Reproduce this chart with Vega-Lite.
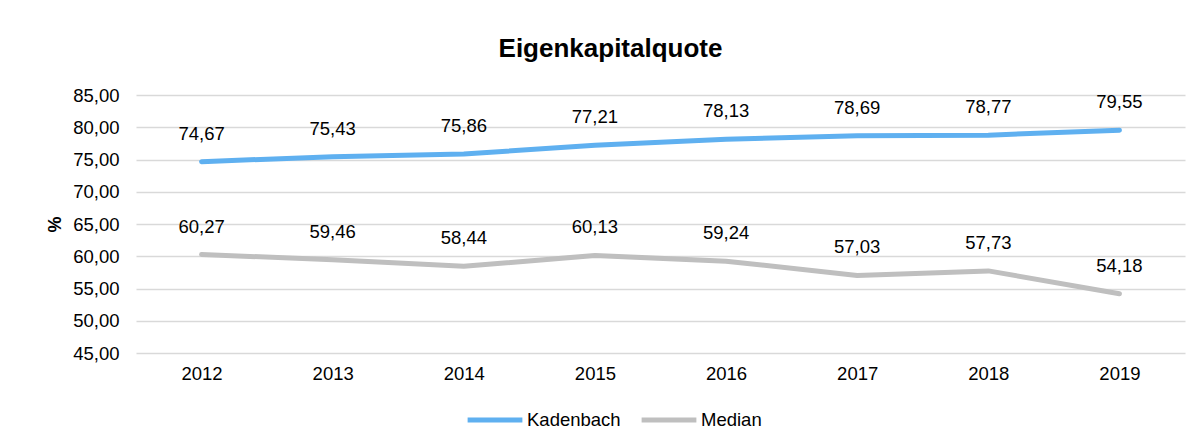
{
  "$schema": "https://vega.github.io/schema/vega-lite/v6.json",
  "width": 1049,
  "height": 258,
  "autosize": {"type": "none"},
  "padding": {"left": 136, "top": 95, "right": 17, "bottom": 93},
  "background": "white",
  "config": {
    "locale": {"number": {"decimal": ",", "thousands": ".", "grouping": [3], "currency": ["", " €"]}},
    "font": "Liberation Sans",
    "view": {"stroke": null}
  },
  "title": {
    "text": "Eigenkapitalquote",
    "fontSize": 26,
    "fontWeight": "bold",
    "font": "Liberation Sans",
    "color": "#000000",
    "anchor": "middle",
    "frame": "group",
    "dx": -50,
    "offset": 24
  },
  "data": {
    "values": [
      {"year": "2012", "series": "Kadenbach", "value": 74.67},
      {"year": "2013", "series": "Kadenbach", "value": 75.43},
      {"year": "2014", "series": "Kadenbach", "value": 75.86},
      {"year": "2015", "series": "Kadenbach", "value": 77.21},
      {"year": "2016", "series": "Kadenbach", "value": 78.13},
      {"year": "2017", "series": "Kadenbach", "value": 78.69},
      {"year": "2018", "series": "Kadenbach", "value": 78.77},
      {"year": "2019", "series": "Kadenbach", "value": 79.55},
      {"year": "2012", "series": "Median", "value": 60.27},
      {"year": "2013", "series": "Median", "value": 59.46},
      {"year": "2014", "series": "Median", "value": 58.44},
      {"year": "2015", "series": "Median", "value": 60.13},
      {"year": "2016", "series": "Median", "value": 59.24},
      {"year": "2017", "series": "Median", "value": 57.03},
      {"year": "2018", "series": "Median", "value": 57.73},
      {"year": "2019", "series": "Median", "value": 54.18}
    ]
  },
  "encoding": {
    "x": {
      "field": "year",
      "type": "ordinal",
      "scale": {"type": "point", "padding": 0.5},
      "axis": {
        "title": null,
        "labelAngle": 0,
        "ticks": false,
        "domain": false,
        "grid": false,
        "labelPadding": 11,
        "labelFontSize": 18.5,
        "labelColor": "#000000",
        "labelFont": "Liberation Sans"
      }
    },
    "y": {
      "field": "value",
      "type": "quantitative",
      "scale": {"domain": [45, 85], "nice": false, "zero": false},
      "axis": {
        "title": "%",
        "values": [45, 50, 55, 60, 65, 70, 75, 80, 85],
        "format": ".2f",
        "ticks": false,
        "domain": false,
        "gridColor": "#D9D9D9",
        "gridWidth": 1.3,
        "labelPadding": 17,
        "labelFontSize": 18.5,
        "labelColor": "#000000",
        "labelFont": "Liberation Sans",
        "titleFont": "Liberation Sans",
        "titleFontSize": 18,
        "titleFontWeight": "bold",
        "titleColor": "#000000",
        "titleAngle": -90,
        "titleX": -81,
        "titleY": 129,
        "titleAlign": "center",
        "titleBaseline": "middle"
      }
    }
  },
  "layer": [
    {
      "mark": {"type": "line", "strokeWidth": 5, "strokeCap": "round", "strokeJoin": "round"},
      "encoding": {
        "color": {
          "field": "series",
          "type": "nominal",
          "scale": {"domain": ["Kadenbach", "Median"], "range": ["#5FB0F0", "#BFBFBF"]},
          "legend": {
            "title": null,
            "orient": "none",
            "direction": "horizontal",
            "legendX": 329,
            "legendY": 295,
            "padding": 0,
            "symbolType": "stroke",
            "symbolSize": 3000,
            "symbolStrokeWidth": 5,
            "labelFontSize": 18.5,
            "labelColor": "#000000",
            "labelFont": "Liberation Sans",
            "labelOffset": 2,
            "columnPadding": 10
          }
        }
      }
    },
    {
      "mark": {"type": "text", "dy": -28, "fontSize": 18.5, "color": "#000000", "baseline": "middle", "font": "Liberation Sans"},
      "encoding": {
        "text": {"field": "value", "type": "quantitative", "format": ".2f"},
        "detail": {"field": "series", "type": "nominal"}
      }
    }
  ]
}
